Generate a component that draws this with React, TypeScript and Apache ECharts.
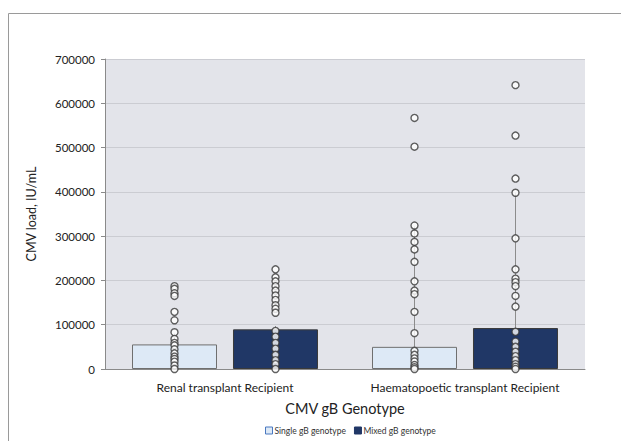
import React, { useEffect, useRef } from "react";
import * as echarts from "echarts";

const categories = ["Renal transplant Recipient", "Haematopoetic transplant Recipient"];
const seriesNames = ["Single gB genotype", "Mixed gB genotype"];
const singleBars = [55500, 50000];
const mixedBars = [89500, 92500];
const singleUpper = [80000, 322000];
const mixedUpper = [97000, 398000];
const yTicks = [0, 100000, 200000, 300000, 400000, 500000, 600000, 700000];

const renalSinglePts = [187000, 181000, 171000, 165000, 129000, 110000, 83000, 68000, 59000, 53500, 44500, 35400, 27800, 22600, 16500, 8000, 0];
const renalMixedPts = [225000, 207000, 198000, 187000, 177000, 166000, 156000, 144000, 136000, 127000, 86000, 73000, 59000, 46000, 32000, 20000, 11000, 0];
const haemSinglePts = [567000, 502000, 324000, 306000, 287000, 270000, 242000, 198000, 177000, 169000, 129000, 81000, 41000, 32000, 24000, 17000, 9000, 4000, 0];
const haemMixedPts = [641000, 527000, 430000, 398000, 295000, 225000, 204000, 196000, 187000, 165000, 141000, 84000, 62000, 50000, 39000, 29000, 20000, 11000, 5000, 0];

const FONT = "Lato, 'Open Sans', sans-serif";

export default function App() {
  const ref = useRef<HTMLDivElement>(null);
  useEffect(() => {
    if (!ref.current) return;
    const chart = echarts.init(ref.current, null, { renderer: "svg" });
    const offset = 50.5;
    const errData = [
      ...singleUpper.map((u, i) => [i, singleBars[i], u, -offset]),
      ...mixedUpper.map((u, i) => [i, mixedBars[i], u, offset]),
    ];
    const ptSeries = (pts: number[], idx: number, off: number) => ({
      type: "scatter",
      data: pts.map((v) => [idx, v]),
      symbol: "circle",
      symbolSize: 7,
      symbolOffset: [off, 0],
      itemStyle: { color: "#ffffff", borderColor: "#3a3a3a", borderWidth: 1.4 },
      z: 5,
      silent: true,
    });
    chart.setOption({
      animation: false,
      textStyle: { fontFamily: FONT },
      graphic: [
        {
          type: "rect",
          shape: { x: 8.5, y: 13.5, width: 640, height: 460 },
          style: { fill: "none", stroke: "#9a9a9a", lineWidth: 1 },
          silent: true,
        },
      ],
      legend: {
        data: [
          { name: seriesNames[0], itemStyle: { color: "#dde9f6", borderColor: "#4a78c0", borderWidth: 1 } },
          { name: seriesNames[1], itemStyle: { color: "#203766", borderColor: "#203766", borderWidth: 1 } },
        ],
        top: 426,
        left: 265,
        itemWidth: 7,
        itemHeight: 7,
        itemGap: 8,
        icon: "rect",
        padding: 0,
        textStyle: { fontSize: 8.5, color: "#333", fontFamily: FONT, padding: [0, 0, 0, -3] },
      },
      grid: { left: 105, right: 36, top: 59, bottom: 72, show: true, backgroundColor: "#e3e4ea", borderWidth: 0 },
      xAxis: {
        type: "category",
        data: categories,
        name: "CMV gB Genotype",
        nameLocation: "middle",
        nameGap: 32,
        nameTextStyle: { fontSize: 14.5, color: "#222", fontFamily: FONT },
        axisLine: { lineStyle: { color: "#8a8a8a" } },
        axisTick: { show: false },
        axisLabel: { interval: 0, hideOverlap: false, fontSize: 12, color: "#222", margin: 12, fontFamily: FONT },
      },
      yAxis: {
        type: "value",
        min: 0,
        max: 700000,
        interval: 100000,
        name: "CMV load, IU/mL",
        nameLocation: "middle",
        nameRotate: 90,
        nameGap: 67,
        nameTextStyle: { fontSize: 12.5, color: "#222", fontFamily: FONT },
        axisLine: { show: true, lineStyle: { color: "#8a8a8a" } },
        axisTick: { show: true, length: 4, lineStyle: { color: "#8a8a8a" } },
        axisLabel: {
          fontSize: 11.5,
          color: "#222",
          margin: 10,
          fontFamily: FONT,
          formatter: (v: number) => (yTicks.includes(v) ? String(v) : ""),
        },
        splitLine: { lineStyle: { color: "#cbccd2", width: 1 } },
      },
      series: [
        {
          name: seriesNames[0],
          type: "bar",
          data: singleBars,
          barWidth: 85,
          barGap: "18.8%",
          itemStyle: { color: "#dde9f6", borderColor: "#6f6f6f", borderWidth: 1 },
          z: 2,
        },
        {
          name: seriesNames[1],
          type: "bar",
          data: mixedBars,
          barWidth: 85,
          itemStyle: { color: "#203766", borderColor: "#3a3a3a", borderWidth: 1 },
          z: 2,
        },
        {
          type: "custom",
          data: errData,
          z: 3,
          silent: true,
          renderItem: (params: any, api: any) => {
            const lo = api.coord([api.value(0), api.value(1)]);
            const hi = api.coord([api.value(0), api.value(2)]);
            const off = api.value(3);
            return {
              type: "line",
              shape: { x1: lo[0] + off, y1: lo[1], x2: hi[0] + off, y2: hi[1] },
              style: { stroke: "#8c8c8c", lineWidth: 1 },
            };
          },
        },
        ptSeries(renalSinglePts, 0, -offset),
        ptSeries(renalMixedPts, 0, offset),
        ptSeries(haemSinglePts, 1, -offset),
        ptSeries(haemMixedPts, 1, offset),
      ],
    });
    return () => chart.dispose();
  }, []);
  return <div ref={ref} style={{ position: "fixed", left: 0, top: 0, width: 621, height: 441, background: "#fff" }} />;
}
